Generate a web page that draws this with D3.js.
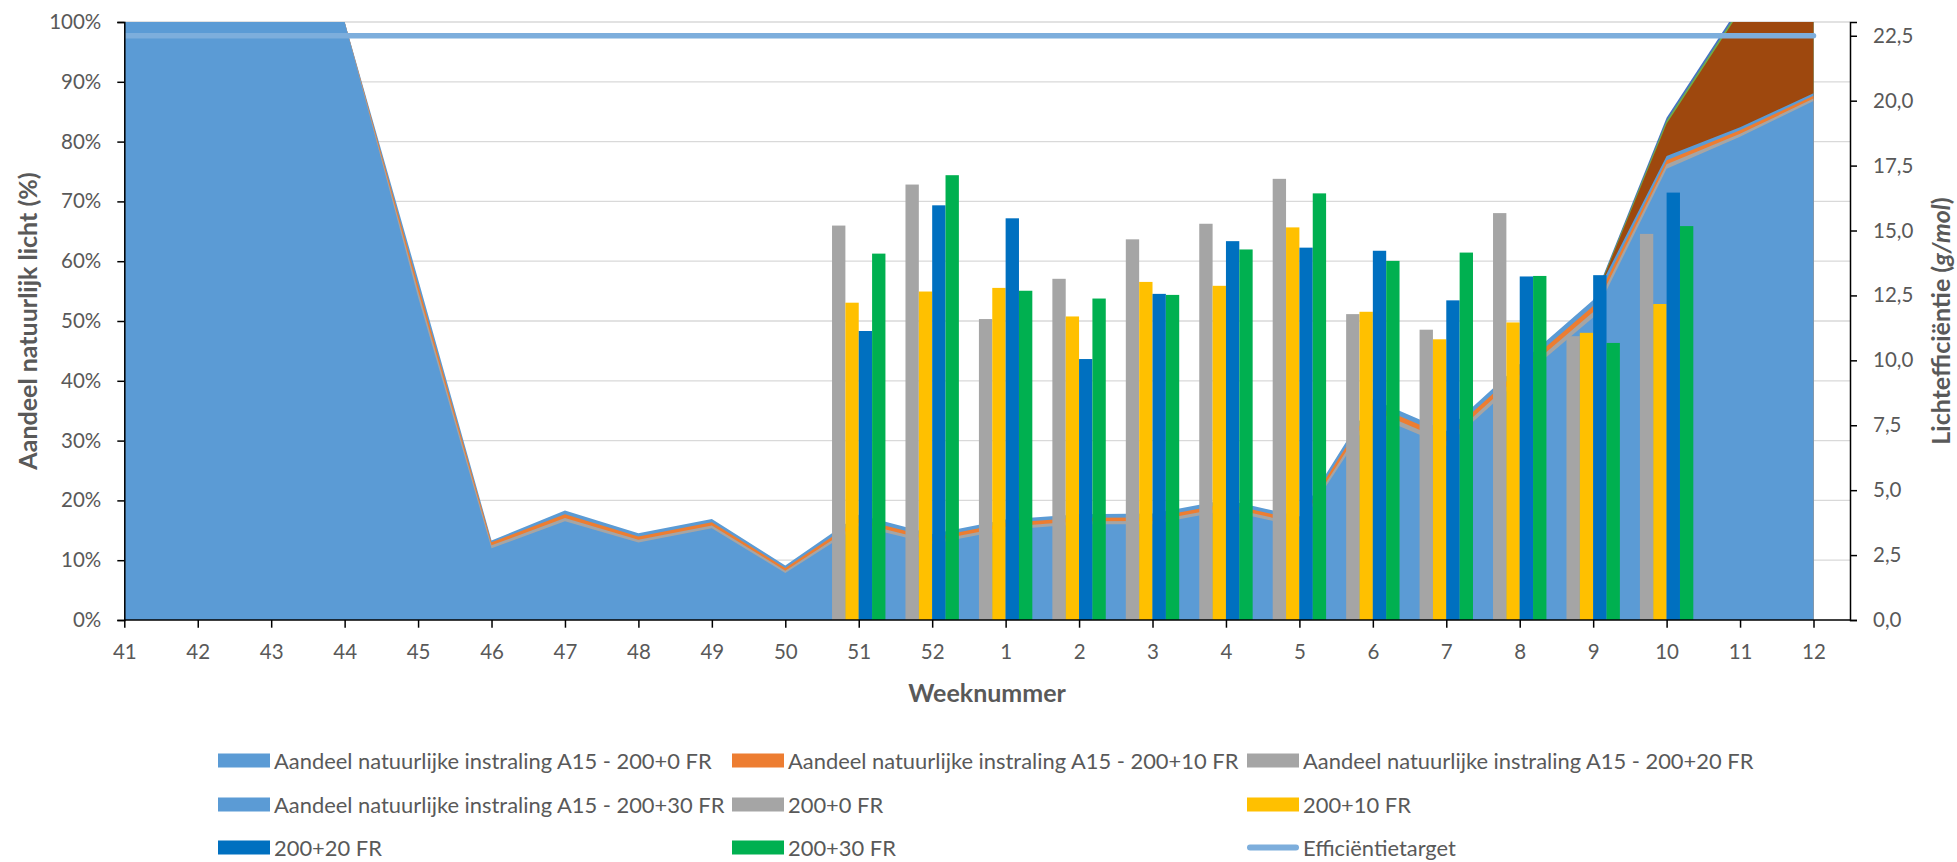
<!DOCTYPE html>
<html>
<head>
<meta charset="utf-8">
<script src="https://cdn.jsdelivr.net/npm/d3@7/dist/d3.min.js"></script>
<style>
  html, body { margin: 0; padding: 0; background: #ffffff; }
  svg { display: block; font-family: Lato, "Open Sans", sans-serif; }
</style>
</head>
<body>
<svg id="chart" width="1957" height="862"></svg>
<script>
// ---------------- DATA ----------------
const weeks = ["41","42","43","44","45","46","47","48","49","50","51","52","1","2","3","4","5","6","7","8","9","10","11","12"];

// Aandeel natuurlijke instraling (%), primary axis (areas)
const shareA15_200_0  = [100,100,100,100,57.0,13.3,18.3,14.5,16.9,9.1,17.6,14.4,16.8,17.7,17.8,20.1,17.3,36.9,31.6,42.8,53.5,77.6,82.4,88.1];
const shareA15_200_10 = [100,100,100,100,56.0,13.0,17.7,13.95,16.35,8.7,16.9,13.8,16.2,17.1,17.15,19.45,16.7,36.0,30.75,41.9,52.5,76.9,81.9,87.65];
const shareA15_200_20 = [100,100,100,100,55.0,12.5,17.05,13.4,15.8,8.25,16.25,13.2,15.6,16.5,16.55,18.85,16.1,35.1,29.9,41.0,51.5,76.2,81.3,87.2];
const shareA15_200_30 = [100,100,100,100,54.0,12.0,16.5,12.95,15.35,7.85,15.7,12.7,15.1,16.0,16.0,18.3,15.6,34.3,29.1,40.2,50.6,75.45,80.8,86.8];
// series without legend entry (visible in weeks 9-12)
const extraBrown = [null,null,null,null,null,null,null,null,null,null,null,null,null,null,null,null,null,null,null,null,53.0,83.0,101.8,104.0];
const extraGreen = [null,null,null,null,null,null,null,null,null,null,null,null,null,null,null,null,null,null,null,null,53.2,83.5,102.3,104.5];
const extraBlue  = [null,null,null,null,null,null,null,null,null,null,null,null,null,null,null,null,null,null,null,null,53.4,84.0,102.8,105.0];

// Lichtefficiëntie (g/mol), secondary axis (bars)
const eff_200_0  = [null,null,null,null,null,null,null,null,null,null,15.19,16.77,11.59,13.14,14.66,15.26,16.99,11.78,11.18,15.67,10.93,14.87,null,null];
const eff_200_10 = [null,null,null,null,null,null,null,null,null,null,12.22,12.65,12.79,11.69,13.02,12.87,15.12,11.87,10.81,11.46,11.06,12.17,null,null];
const eff_200_20 = [null,null,null,null,null,null,null,null,null,null,11.13,15.97,15.47,10.05,12.56,14.59,14.34,14.22,12.31,13.23,13.28,16.46,null,null];
const eff_200_30 = [null,null,null,null,null,null,null,null,null,null,14.11,17.13,12.68,12.38,12.52,14.27,16.43,13.83,14.15,13.25,10.67,15.17,null,null];
const efficiencyTarget = 22.5;

const leftTicks  = [0,10,20,30,40,50,60,70,80,90,100];
const rightTicks = [0,2.5,5,7.5,10,12.5,15,17.5,20,22.5];
const rightMax = 23.03;

// ---------------- LAYOUT ----------------
const svg = d3.select("#chart");
const P = { left: 124.3, right: 1850, top: 22, bottom: 620 };
const textColor = "#595959";

const x = d3.scalePoint().domain(weeks).range([P.left, 1813.5]);
const yL = d3.scaleLinear().domain([0, 100]).range([P.bottom, P.top]);
const yR = d3.scaleLinear().domain([0, rightMax]).range([P.bottom, P.top]);

svg.append("defs").append("clipPath").attr("id", "plotclip")
  .append("rect").attr("x", P.left).attr("y", P.top)
  .attr("width", P.right - P.left).attr("height", P.bottom - P.top);

// gridlines
svg.append("g").selectAll("line").data(leftTicks.filter(t => t > 0)).join("line")
  .attr("x1", P.left).attr("x2", P.right)
  .attr("y1", d => yL(d)).attr("y2", d => yL(d))
  .attr("stroke", "#D9D9D9").attr("stroke-width", 1.3);

const plot = svg.append("g").attr("clip-path", "url(#plotclip)");

// areas (drawn back to front)
const areaSeries = [
  { v: extraBlue,  c: "#4472C4" },
  { v: extraGreen, c: "#70AD47" },
  { v: extraBrown, c: "#9E480E" },
  { v: shareA15_200_0,  c: "#5B9BD5" },
  { v: shareA15_200_10, c: "#ED7D31" },
  { v: shareA15_200_20, c: "#A5A5A5" },
  { v: shareA15_200_30, c: "#5B9BD5" }
];
const area = d3.area()
  .defined(d => d.v != null)
  .x(d => x(d.w)).y0(yL(0)).y1(d => yL(d.v));
areaSeries.forEach(s => {
  plot.append("path")
    .datum(weeks.map((w, i) => ({ w, v: s.v[i] })))
    .attr("d", area).attr("fill", s.c);
});

// bars
const barSeries = [
  { v: eff_200_0,  c: "#A5A5A5" },
  { v: eff_200_10, c: "#FFC000" },
  { v: eff_200_20, c: "#0070C0" },
  { v: eff_200_30, c: "#00B050" }
];
const inner = d3.scaleBand().domain(d3.range(barSeries.length)).range([-26.7, 26.7]).padding(0);
barSeries.forEach((s, si) => {
  plot.append("g").selectAll("rect")
    .data(weeks.map((w, i) => ({ w, v: s.v[i] })).filter(d => d.v != null))
    .join("rect")
    .attr("x", d => x(d.w) + inner(si))
    .attr("width", inner.bandwidth())
    .attr("y", d => yR(d.v))
    .attr("height", d => yR(0) - yR(d.v))
    .attr("fill", s.c);
});

// target line
plot.append("path")
  .datum(weeks)
  .attr("d", d3.line().x(w => x(w)).y(() => yR(efficiencyTarget)))
  .attr("fill", "none").attr("stroke", "#7DAEDC").attr("stroke-width", 5.5)
  .attr("stroke-linecap", "round");

// ---------------- AXES ----------------
function styleAxis(g) {
  g.selectAll("path.domain").attr("stroke", "#000").attr("stroke-width", 1.5);
  g.selectAll(".tick line").attr("stroke", "#000").attr("stroke-width", 1.5);
  g.selectAll(".tick text").attr("fill", textColor)
    .style("font-family", "Lato, sans-serif").style("font-size", "20.5px");
}

const gL = svg.append("g").attr("transform", `translate(${P.left},0)`)
  .call(d3.axisLeft(yL).tickValues(leftTicks).tickSize(7).tickPadding(16).tickFormat(d => d + "%"));
styleAxis(gL);

const gR = svg.append("g").attr("transform", `translate(${P.right},0)`)
  .call(d3.axisRight(yR).tickValues(rightTicks).tickSize(7).tickPadding(16)
    .tickFormat(d => d3.format(".1f")(d).replace(".", ",")));
styleAxis(gR);

const gX = svg.append("g").attr("transform", `translate(0,${P.bottom})`)
  .call(d3.axisBottom(x).tickSize(7.7).tickPadding(16.5));
gX.select("path.domain").remove();
styleAxis(gX);
svg.append("line").attr("x1", P.left).attr("x2", P.right)
  .attr("y1", P.bottom).attr("y2", P.bottom)
  .attr("stroke", "#000").attr("stroke-width", 1.5);

// axis titles
svg.append("text")
  .attr("transform", `translate(27,321) rotate(-90)`)
  .attr("text-anchor", "middle").attr("dominant-baseline", "central")
  .attr("fill", textColor).style("font-weight", "bold").style("font-size", "25px")
  .text("Aandeel natuurlijk licht (%)");

const rt = svg.append("text")
  .attr("transform", `translate(1940,321) rotate(-90)`)
  .attr("text-anchor", "middle").attr("dominant-baseline", "central")
  .attr("fill", textColor).style("font-weight", "bold").style("font-size", "25px");
rt.append("tspan").text("Lichtefficiëntie (");
rt.append("tspan").style("font-style", "italic").text("g/mol");
rt.append("tspan").text(")");

svg.append("text")
  .attr("x", (P.left + P.right) / 2).attr("y", 691.7)
  .attr("text-anchor", "middle").attr("dominant-baseline", "central")
  .attr("fill", textColor).style("font-weight", "bold").style("font-size", "25px")
  .text("Weeknummer");

// ---------------- LEGEND ----------------
const legendItems = [
  { label: "Aandeel natuurlijke instraling A15 - 200+0 FR",  c: "#5B9BD5", type: "rect" },
  { label: "Aandeel natuurlijke instraling A15 - 200+10 FR", c: "#ED7D31", type: "rect" },
  { label: "Aandeel natuurlijke instraling A15 - 200+20 FR", c: "#A5A5A5", type: "rect" },
  { label: "Aandeel natuurlijke instraling A15 - 200+30 FR", c: "#5B9BD5", type: "rect" },
  { label: "200+0 FR",  c: "#A5A5A5", type: "rect" },
  { label: "200+10 FR", c: "#FFC000", type: "rect" },
  { label: "200+20 FR", c: "#0070C0", type: "rect" },
  { label: "200+30 FR", c: "#00B050", type: "rect" },
  { label: "Efficiëntietarget", c: "#7DAEDC", type: "line" }
];
const colX = [218, 732, 1247];
const rowY = [760.5, 804.5, 847.5];
const lg = svg.append("g");
const legendTexts = [];
legendItems.forEach((it, i) => {
  const cx = colX[i % 3], cy = rowY[Math.floor(i / 3)];
  if (it.type === "rect") {
    lg.append("rect").attr("x", cx).attr("y", cy - 7).attr("width", 52).attr("height", 14).attr("fill", it.c);
  } else {
    lg.append("line").attr("x1", cx + 3).attr("x2", cx + 49).attr("y1", cy).attr("y2", cy)
      .attr("stroke", it.c).attr("stroke-width", 6).attr("stroke-linecap", "round");
  }
  legendTexts.push(lg.append("text").attr("x", cx + 56).attr("y", cy)
    .attr("dominant-baseline", "central").attr("fill", textColor)
    .style("font-size", "21px").text(it.label));
});
// fit legend font so the first label matches its reference width
const w0 = legendTexts[0].node().getComputedTextLength();
const fs = Math.max(16, Math.min(24, 21 * 438 / w0));
legendTexts.forEach(t => t.style("font-size", fs + "px"));
</script>
</body>
</html>
